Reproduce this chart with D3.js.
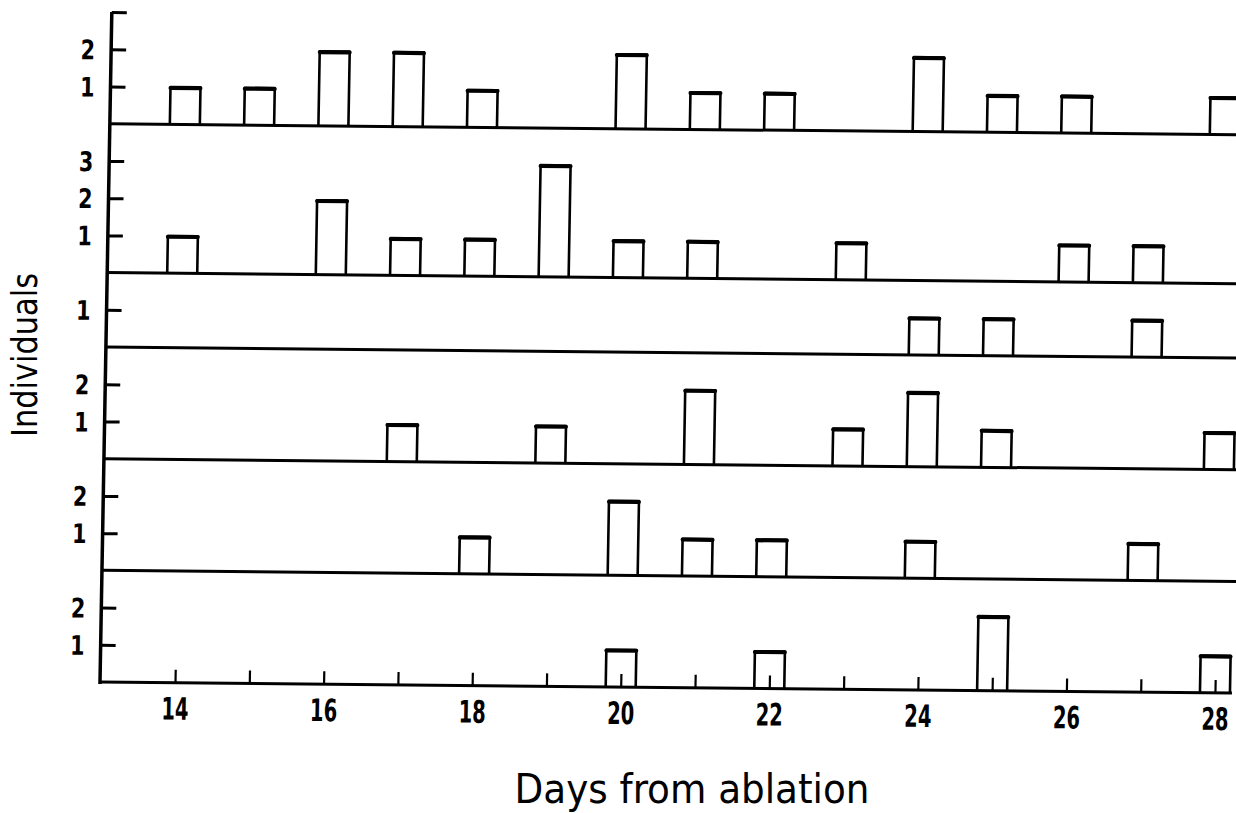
<!DOCTYPE html>
<html>
<head>
<meta charset="utf-8">
<script src="https://cdn.jsdelivr.net/npm/d3@7/dist/d3.min.js"></script>
<style>
body { margin: 0; background: #fff; }
svg { display: block; }
</style>
</head>
<body>
<script>
// days on the x axis, one count per day for each of the six stacked panels
let days = [14, 15, 16, 17, 18, 19, 20, 21, 22, 23, 24, 25, 26, 27, 28];
let panel1 = [1, 1, 2, 2, 1, 0, 2, 1, 1, 0, 2, 1, 1, 0, 1];
let panel2 = [1, 0, 2, 1, 1, 3, 1, 1, 0, 1, 0, 0, 1, 1, 0];
let panel3 = [0, 0, 0, 0, 0, 0, 0, 0, 0, 0, 1, 1, 0, 1, 0];
let panel4 = [0, 0, 0, 1, 0, 1, 0, 2, 0, 1, 2, 1, 0, 0, 1];
let panel5 = [0, 0, 0, 0, 1, 0, 2, 1, 1, 0, 1, 0, 0, 1, 0];
let panel6 = [0, 0, 0, 0, 0, 0, 1, 0, 1, 0, 0, 2, 0, 0, 1];
let panels = [panel1, panel2, panel3, panel4, panel5, panel6];

let panelMax = [3, 4, 2, 3, 3, 3];
let panelTicks = [[1, 2, 3], [1, 2, 3], [1], [1, 2], [1, 2], [1, 2]];
let panelTickLabels = [["1", "2", ""], ["1", "2", "3"], ["1"], ["1", "2"], ["1", "2"], ["1", "2"]];
let dayLabels = [14, 16, 18, 20, 22, 24, 26, 28];

let width = 1236,
    height = 813,
    axisX = 100,
    plotTop = 12,
    plotBottom = 682,
    lineEnd = 1240,
    barW = 30;

let fontCond = "'DejaVu Sans Condensed', 'DejaVu Sans', sans-serif";
let unit = (plotBottom - plotTop) / d3.sum(panelMax);

let svg = d3.select("body").append("svg")
    .attr("width", width).attr("height", height)
    .style("font-family", fontCond);

// the scan is slightly tilted, so tilt the whole plot the same way
let chart = svg.append("g")
    .attr("transform", "translate(" + axisX + "," + plotBottom + ") rotate(0.56) skewX(-0.45) translate(" + (-axisX) + "," + (-plotBottom) + ")");

let xScale = d3.scaleLinear()
    .domain([14, 28])
    .range([175, 1215]);

let panelTop = plotTop;
panels.forEach((vals, i) => {
    let base = panelTop + panelMax[i] * unit;
    let yScale = d3.scaleLinear()
        .domain([0, panelMax[i]])
        .range([base, panelTop]);
    panelTop = base;

    let g = chart.append("g");

    let yAxis = d3.axisLeft(yScale)
        .tickValues(panelTicks[i])
        .tickFormat((d, j) => panelTickLabels[i][j])
        .tickSizeInner(-15).tickSizeOuter(0).tickPadding(17);

    let ya = g.append("g").attr("transform", "translate(" + axisX + ",0)").call(yAxis);
    ya.select(".domain").remove();
    ya.attr("font-family", null).attr("font-size", null);
    ya.selectAll(".tick line").attr("stroke", "#000").attr("stroke-width", 3);
    ya.selectAll(".tick text")
        .attr("x", 0)
        .attr("dy", "0.36em")
        .attr("transform", "translate(-16,0) scale(0.85,1)")
        .attr("fill", "#000")
        .style("font-family", fontCond)
        .style("font-size", "27px").style("font-weight", "bold");

    // baseline of the panel
    g.append("line")
        .attr("x1", axisX).attr("x2", i == panels.length - 1 ? 1232 : lineEnd)
        .attr("y1", base).attr("y2", base)
        .attr("stroke", "#000").attr("stroke-width", 3);

    let data = days.map((d, j) => ({ day: d, n: vals[j] })).filter(d => d.n > 0);

    g.selectAll("path.bar").data(data).enter().append("path")
        .attr("class", "bar")
        .attr("d", d => "M" + (xScale(d.day) - barW / 2) + "," + base +
            "V" + yScale(d.n) + "H" + (xScale(d.day) + barW / 2) + "V" + base)
        .attr("fill", "none").attr("stroke", "#000").attr("stroke-width", 2.6)
        .attr("stroke-linejoin", "round");

    g.selectAll("line.top").data(data).enter().append("line")
        .attr("class", "top")
        .attr("x1", d => xScale(d.day) - barW / 2).attr("x2", d => xScale(d.day) + barW / 2)
        .attr("y1", d => yScale(d.n) + 0.8).attr("y2", d => yScale(d.n) + 0.8)
        .attr("stroke", "#000").attr("stroke-width", 4).attr("stroke-linecap", "round");
});

// main vertical axis
chart.append("line")
    .attr("x1", axisX).attr("x2", axisX)
    .attr("y1", plotTop).attr("y2", plotBottom + 2)
    .attr("stroke", "#000").attr("stroke-width", 3.5);

// day ticks on the bottom panel only
let xAxis = d3.axisBottom(xScale)
    .tickValues(days)
    .tickFormat((d) => dayLabels.includes(d) ? d : "")
    .tickSizeInner(-13).tickSizeOuter(0).tickPadding(15);

let xa = chart.append("g").attr("transform", "translate(0," + plotBottom + ")").call(xAxis);
xa.select(".domain").remove();
xa.attr("font-family", null).attr("font-size", null);
xa.selectAll(".tick line").attr("stroke", "#000").attr("stroke-width", 2.2);
xa.selectAll(".tick text")
    .attr("transform", "scale(0.7,1)")
    .attr("fill", "#000")
    .style("font-family", fontCond)
    .style("font-size", "31px").style("font-weight", "bold");

svg.append("text")
    .attr("transform", "translate(37,355) rotate(-90)")
    .attr("text-anchor", "middle")
    .attr("textLength", 164).attr("lengthAdjust", "spacingAndGlyphs")
    .style("font-size", "36px")
    .text("Individuals");

svg.append("text")
    .attr("x", 692).attr("y", 803)
    .attr("text-anchor", "middle")
    .attr("textLength", 355).attr("lengthAdjust", "spacingAndGlyphs")
    .style("font-size", "40px")
    .text("Days from ablation");
</script>
</body>
</html>
